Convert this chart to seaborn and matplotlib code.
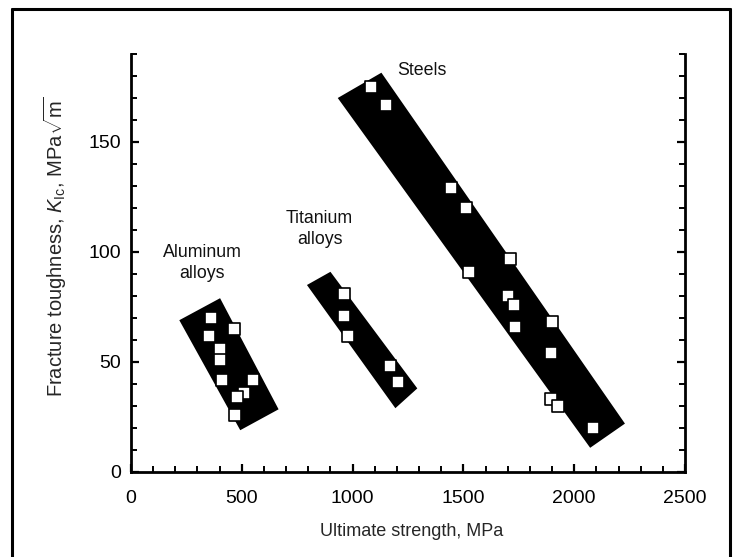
import matplotlib
matplotlib.use("Agg")
import matplotlib.pyplot as plt
from matplotlib.lines import Line2D
from matplotlib.ticker import MultipleLocator
import seaborn as sns
import pandas as pd

# Measured points: ultimate strength (MPa) vs fracture toughness (MPa*sqrt(m))
aluminum_strength = [362, 467, 353, 402, 402, 410, 550, 508, 478, 470]
aluminum_toughness = [70, 65, 62, 56, 51, 42, 42, 36, 34, 26]

titanium_strength = [960, 960, 978, 1171, 1204]
titanium_toughness = [81, 71, 62, 48, 41]

steel_strength = [1083, 1150, 1442, 1513, 1525, 1709, 1703, 1728, 1731,
                  1899, 1897, 1897, 1927, 2083]
steel_toughness = [175, 167, 129, 120, 91, 97, 80, 76, 66, 68, 54, 33, 30, 20]

# Envelope bands around each alloy family (corner strength, corner toughness)
aluminum_band_x = [218, 402, 666, 493]
aluminum_band_y = [69, 79, 28.5, 19]
titanium_band_x = [794, 900, 1292, 1193]
titanium_band_y = [85, 91, 38, 29]
steel_band_x = [933, 1130, 2229, 2072]
steel_band_y = [170, 181.5, 22, 11]

# Group labels
group_names = ["Aluminum\nalloys", "Titanium\nalloys", "Steels"]
label_x = [322, 851, 1312]
label_y = [95, 110.5, 182.7]

df = pd.concat([
    pd.DataFrame({"strength": aluminum_strength, "toughness": aluminum_toughness, "group": "Aluminum"}),
    pd.DataFrame({"strength": titanium_strength, "toughness": titanium_toughness, "group": "Titanium"}),
    pd.DataFrame({"strength": steel_strength, "toughness": steel_toughness, "group": "Steel"}),
], ignore_index=True)

sns.set_theme(style="ticks")
plt.rcParams["font.family"] = ["Liberation Sans", "DejaVu Sans"]
plt.rcParams["mathtext.fontset"] = "custom"
plt.rcParams["mathtext.rm"] = "Liberation Sans"
plt.rcParams["mathtext.it"] = "Liberation Sans:italic"

fig = plt.figure(figsize=(7.39, 5.57), dpi=100)
W, H = 739, 557
ax = fig.add_axes([131 / W, 1 - 472 / H, (685 - 131) / W, (472 - 54) / H])

for bx, by in [(aluminum_band_x, aluminum_band_y),
               (titanium_band_x, titanium_band_y),
               (steel_band_x, steel_band_y)]:
    ax.fill(bx, by, color="black", lw=0, zorder=1)

sns.scatterplot(data=df, x="strength", y="toughness", ax=ax, marker="s",
                s=68, color="white", edgecolor="black", linewidth=1.2,
                legend=False, zorder=3)

for name, tx, ty in zip(group_names, label_x, label_y):
    ax.text(tx, ty, name, ha="center", va="center", fontsize=12.8,
            linespacing=1.3, color="#111111")

ax.set_xlim(0, 2500)
ax.set_ylim(0, 190)
ax.xaxis.set_major_locator(MultipleLocator(500))
ax.xaxis.set_minor_locator(MultipleLocator(100))
ax.yaxis.set_major_locator(MultipleLocator(50))
ax.yaxis.set_minor_locator(MultipleLocator(10))

for side in ["left", "bottom", "right"]:
    ax.spines[side].set_linewidth(2.0)
    ax.spines[side].set_color("black")
ax.spines["top"].set_visible(False)

ax.tick_params(axis="both", which="both", direction="in", colors="black",
               labelsize=14, right=True)
ax.tick_params(axis="both", which="major", length=6, width=1.6)
ax.tick_params(axis="both", which="minor", length=4, width=1.4)
ax.tick_params(axis="x", which="major", pad=13)
ax.tick_params(axis="y", which="major", pad=7)

ax.set_xlabel("Ultimate strength, MPa", fontsize=13)
ax.set_ylabel(r"Fracture toughness, $K_{\rm Ic}$, MPa$\sqrt{\rm m}$",
              fontsize=14.5)
ax.xaxis.set_label_coords(0.507, -0.122)
ax.yaxis.set_label_coords(-0.112, 0.538)
ax.grid(False)

# Frame around the figure
for (x0, y0, x1, y1) in [(12, 9, 730, 9), (12, 9, 12, 557), (730, 9, 730, 557)]:
    fig.add_artist(Line2D([x0 / W, x1 / W], [1 - y0 / H, 1 - y1 / H],
                          transform=fig.transFigure, color="black", lw=2.2))

fig.savefig("out.png", dpi=100, facecolor="white")
